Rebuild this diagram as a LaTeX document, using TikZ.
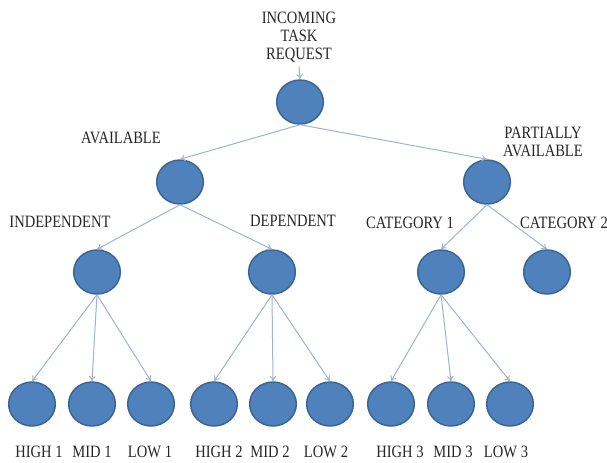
\documentclass[tikz,border=0pt]{standalone}
\usepackage{fontspec}
\setmainfont{Liberation Serif}[FakeStretch=0.84]
\usetikzlibrary{shapes.geometric,arrows.meta}
\definecolor{circfill}{HTML}{4F81BD}
\definecolor{circline}{HTML}{3A6591}
\definecolor{edgecol}{HTML}{9BB3D4}
\definecolor{txtcol}{HTML}{262626}
\begin{document}
\begin{tikzpicture}[x=0.75pt,y=-0.75pt,
  circ/.style={ellipse,draw=circline,line width=1.1pt,fill=circfill,minimum width=35pt,minimum height=33pt,inner sep=0pt},
  lbl/.style={font=\fontsize{13}{13.5}\selectfont,text=txtcol,align=center,inner sep=1pt},
  edge/.style={draw=edgecol,line width=0.75pt,-{To[length=4pt,width=5pt]}}]
\useasboundingbox (0,0) rectangle (607,462);
% nodes
\node[circ] (root) at (300,102) {};
\node[circ] (av) at (180,182) {};
\node[circ] (pa) at (487,182) {};
\node[circ] (ind) at (97,272) {};
\node[circ] (dep) at (272,272) {};
\node[circ] (c1) at (441,272) {};
\node[circ] (c2) at (547,272) {};
\node[circ] (h1) at (32,404) {};
\node[circ] (m1) at (92,404) {};
\node[circ] (l1) at (151,404) {};
\node[circ] (h2) at (214,404) {};
\node[circ] (m2) at (273,404) {};
\node[circ] (l2) at (330,404) {};
\node[circ] (h3) at (391,404) {};
\node[circ] (m3) at (451,404) {};
\node[circ] (l3) at (510,404) {};
% labels
\node[lbl] (in) at (299,37) {INCOMING\\TASK\\REQUEST};
\node[lbl] (tav) at (121,138) {AVAILABLE};
\node[lbl] (tpa) at (543,142) {PARTIALLY\\AVAILABLE};
\node[lbl] (tind) at (60,222) {INDEPENDENT};
\node[lbl] (tdep) at (293,221) {DEPENDENT};
\node[lbl] (tc1) at (410,223) {CATEGORY 1};
\node[lbl] (tc2) at (564,223) {CATEGORY 2};
\node[lbl] (th1) at (39,452) {HIGH 1};
\node[lbl] (tm1) at (92,452) {MID 1};
\node[lbl] (tl1) at (150,452) {LOW 1};
\node[lbl] (th2) at (219,452) {HIGH 2};
\node[lbl] (tm2) at (270,452) {MID 2};
\node[lbl] (tl2) at (326,452) {LOW 2};
\node[lbl] (th3) at (400,452) {HIGH 3};
\node[lbl] (tm3) at (453,452) {MID 3};
\node[lbl] (tl3) at (506,452) {LOW 3};
% edges
\draw[edge] ([yshift=-2pt]in.south) -- (root.north);
\draw[edge] (root.south) -- (av.north);
\draw[edge] (root.south) -- (pa.north);
\draw[edge] (av.south) -- (ind.north);
\draw[edge] (av.south) -- (dep.north);
\draw[edge] (pa.south) -- (c1.north);
\draw[edge] (pa.south) -- (c2.north);
\foreach \p/\a/\b/\c in {ind/h1/m1/l1, dep/h2/m2/l2, c1/h3/m3/l3}{
  \draw[edge] (\p.south) -- (\a.north);
  \draw[edge] (\p.south) -- (\b.north);
  \draw[edge] (\p.south) -- (\c.north);
}
\end{tikzpicture}
\end{document}
